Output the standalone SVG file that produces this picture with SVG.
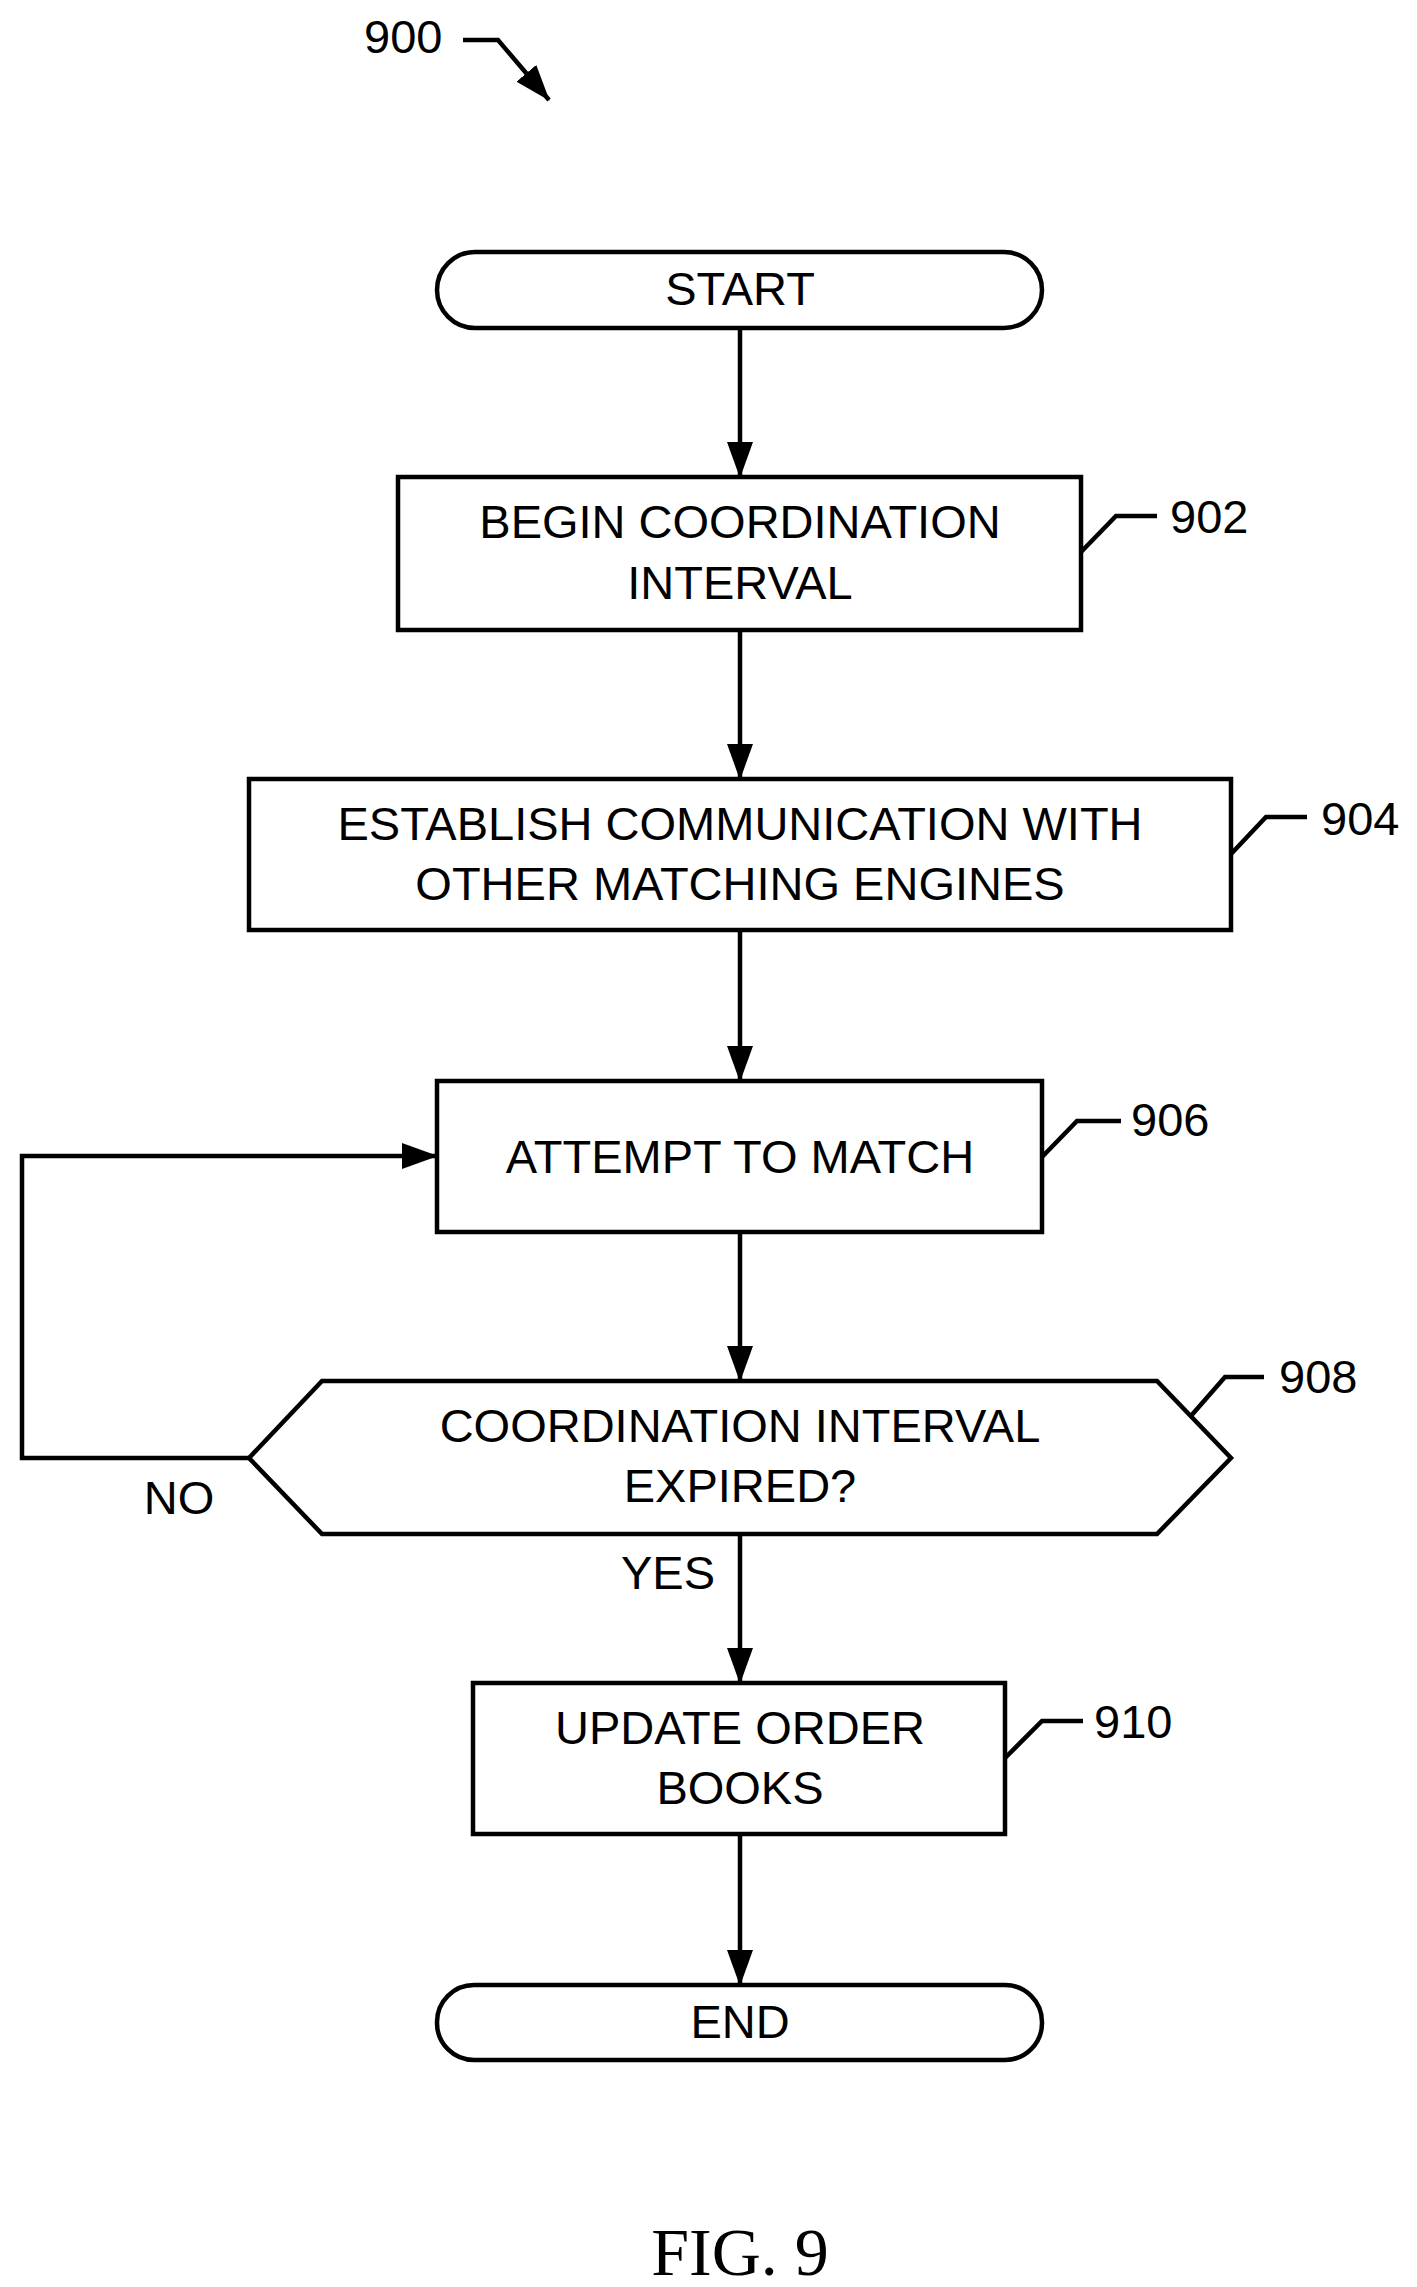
<svg xmlns="http://www.w3.org/2000/svg" width="1417" height="2287" viewBox="0 0 1417 2287">
<style>
.s{fill:#fff;stroke:#000;stroke-width:4.5}
.l{fill:none;stroke:#000;stroke-width:4.5}
text{font-family:"Liberation Sans",Arial,sans-serif;font-size:47px;text-anchor:middle}
.r{text-anchor:start}
</style>
<defs><marker id="a" markerWidth="10" markerHeight="12" refX="9" refY="6" orient="auto" markerUnits="userSpaceOnUse" viewBox="0 0 10 12"><path d="M0,0L10,6L0,12z"/></marker>
<marker id="b" markerWidth="36" markerHeight="26" refX="35" refY="13" orient="auto" markerUnits="userSpaceOnUse"><path d="M0,0L36,13L0,26z"/></marker></defs>
<rect width="1417" height="2287" fill="#fff"/>
<g id="connectors">
<path class="l" d="M740,328V477" marker-end="url(#b)"/>
<path class="l" d="M740,630V779" marker-end="url(#b)"/>
<path class="l" d="M740,930V1081" marker-end="url(#b)"/>
<path class="l" d="M740,1232V1381" marker-end="url(#b)"/>
<path class="l" d="M740,1534V1683" marker-end="url(#b)"/>
<path class="l" d="M740,1834V1985" marker-end="url(#b)"/>
<path class="l" d="M249,1458H22V1156H437" marker-end="url(#b)"/>
<path class="l" d="M463,40H498L549,100" marker-end="url(#b)"/>
<path class="l" d="M1081,552L1116,516H1157M1231,854L1266,817H1307M1042,1157L1077,1121H1121M1190,1417L1225,1377H1264M1005,1758L1042,1721H1083"/>
</g>
<text class="r" x="364" y="53">900</text>
<g id="start"><rect class="s" x="437" y="252" width="605" height="76" rx="38"/><text x="740" y="305">START</text></g>
<g id="n902"><rect class="s" x="398" y="477" width="683" height="153"/><text x="740" y="538">BEGIN COORDINATION</text><text x="740" y="599">INTERVAL</text><text class="r" x="1170" y="533">902</text></g>
<g id="n904"><rect class="s" x="249" y="779" width="982" height="151"/><text x="740" y="840">ESTABLISH COMMUNICATION WITH</text><text x="740" y="900">OTHER MATCHING ENGINES</text><text class="r" x="1321" y="835">904</text></g>
<g id="n906"><rect class="s" x="437" y="1081" width="605" height="151"/><text x="740" y="1173">ATTEMPT TO MATCH</text><text class="r" x="1131" y="1136">906</text></g>
<g id="n908"><path class="s" d="M249,1458L322,1381H1157L1231,1458L1157,1534H322z"/><text x="740" y="1442">COORDINATION INTERVAL</text><text x="740" y="1502">EXPIRED?</text><text class="r" x="1279" y="1393">908</text><text x="179" y="1514">NO</text><text x="668" y="1589">YES</text></g>
<g id="n910"><rect class="s" x="473" y="1683" width="532" height="151"/><text x="740" y="1744">UPDATE ORDER</text><text x="740" y="1804">BOOKS</text><text class="r" x="1094" y="1738">910</text></g>
<g id="end"><rect class="s" x="437" y="1985" width="605" height="75" rx="37"/><text x="740" y="2038">END</text></g>
<text x="740" y="2275" style="font-family:'Liberation Serif',serif;font-size:68px">FIG. 9</text>
</svg>
